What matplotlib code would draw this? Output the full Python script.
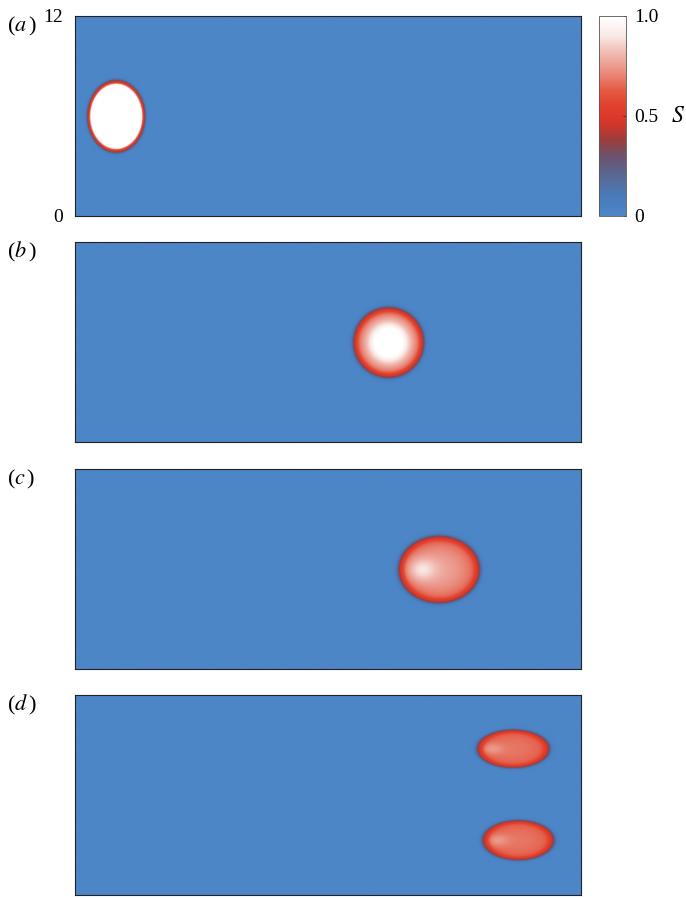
import numpy as np
import matplotlib
matplotlib.use("Agg")
import matplotlib.pyplot as plt
from matplotlib.colors import LinearSegmentedColormap

plt.rcParams['font.family'] = ['Liberation Serif', 'DejaVu Serif']
plt.rcParams['mathtext.fontset'] = 'stix'

# Domain
x_max = 30.0
y_max = 12.0
panel_labels = ['a', 'b', 'c', 'd']
ytick_vals = [0, 12]
cbar_ticks = [0, 0.5, 1.0]
cbar_ticklabels = ['0', '0.5', '1.0']

# Blob parameters (one entry per blob)
blob_panel   = [0,    1,    2,     3,    3]
blob_cx      = [2.43, 18.6, 21.6,  26.0, 26.3]
blob_cy      = [5.95, 5.97, 5.97,  8.78, 3.28]
blob_ax      = [1.72, 2.10, 2.42,  2.15, 2.12]
blob_ay      = [2.17, 2.12, 2.02,  1.15, 1.20]
blob_level   = [1.15, 0.82, 0.77,  0.68, 0.68]
blob_slope   = [0.00, 0.30, 0.22,  0.10, 0.10]
blob_high    = [0.00, 0.42, 0.16,  0.09, 0.09]
blob_hoff    = [0.00, 0.00, -0.45, -0.6, -0.6]
blob_hwidth  = [0.50, 0.50, 0.35,  0.30, 0.30]
blob_ring    = [0.58, 0.57, 0.57,  0.56, 0.56]
blob_ringw   = [0.08, 0.05, 0.06,  0.08, 0.08]
blob_edge    = [0.05, 0.07, 0.07,  0.08, 0.08]

# Colormap anchors (S value, colour)
cmap_pos = [0.0, 0.10, 0.20, 0.30, 0.38, 0.46, 0.55, 0.63, 0.72, 0.82, 0.90, 1.0]
cmap_col = ['#4c86c7', '#4a7ab9', '#586894', '#6c526c', '#9a3e3c', '#d5352a',
            '#e2402d', '#e45a45', '#e98d7e', '#f1bcb4', '#f9e8e5', '#ffffff']
cmap = LinearSegmentedColormap.from_list('s', list(zip(cmap_pos, cmap_col)))

nx, ny = 760, 304
xg = np.linspace(0, x_max, nx)
yg = np.linspace(0, y_max, ny)
X, Y = np.meshgrid(xg, yg)

fig = plt.figure(figsize=(6.86, 8.98), dpi=100)
W, H = 686.0, 898.0
tops = [16, 242, 469, 695]
ax_h = 200
for i, top in enumerate(tops):
    ax = fig.add_axes([75 / W, 1 - (top + ax_h) / H, 506 / W, ax_h / H])
    S = np.zeros_like(X)
    for p, cx, cy, a, b, lev, k, hi, ho, hw, rl, rw, ew in zip(
            blob_panel, blob_cx, blob_cy, blob_ax, blob_ay, blob_level, blob_slope,
            blob_high, blob_hoff, blob_hwidth, blob_ring, blob_ringw, blob_edge):
        if p != i:
            continue
        dx = (X - cx) / a
        dy = (Y - cy) / b
        r = np.sqrt(dx ** 2 + dy ** 2)
        inner = lev * (1 - k * r ** 2) + hi * np.exp(-((dx - ho) ** 2 + dy ** 2) / hw ** 2)
        e1 = 0.5 * (1 - np.tanh((r - (1 - rw)) / ew))
        e2 = 0.5 * (1 - np.tanh((r - 1) / ew))
        Sb = np.maximum(np.clip(inner * e1, 0, 1), rl * e2)
        S = np.maximum(S, Sb)
    im = ax.imshow(S, origin='lower', extent=[0, x_max, 0, y_max], cmap=cmap, vmin=0, vmax=1,
                   aspect='auto', interpolation='bilinear')
    ax.set_xticks([])
    if i == 0:
        ax.set_yticks(ytick_vals)
        ax.set_yticklabels([str(v) for v in ytick_vals], fontsize=14)
        ax.tick_params(axis='y', length=0, pad=9)
    else:
        ax.set_yticks([])
    for s in ax.spines.values():
        s.set_linewidth(0.8)
        s.set_color('#222222')
    fig.text(7 / W, 1 - (top + 10) / H, r'($a\,$)'.replace('a', panel_labels[i]),
             fontsize=16, ha='left', va='center')

cax = fig.add_axes([599 / W, 1 - 216 / H, 27 / W, 200 / H])
cb = fig.colorbar(im, cax=cax, ticks=cbar_ticks)
cb.set_ticklabels(cbar_ticklabels)
cb.ax.tick_params(labelsize=14, length=2, width=0.6, direction='in', pad=6, color='#333333')
cb.outline.set_linewidth(0.6)
cb.outline.set_edgecolor('#555555')
fig.text(671 / W, 1 - 117 / H, r'$S$', fontsize=17, ha='left', va='center')

fig.savefig('out.png', dpi=100)
